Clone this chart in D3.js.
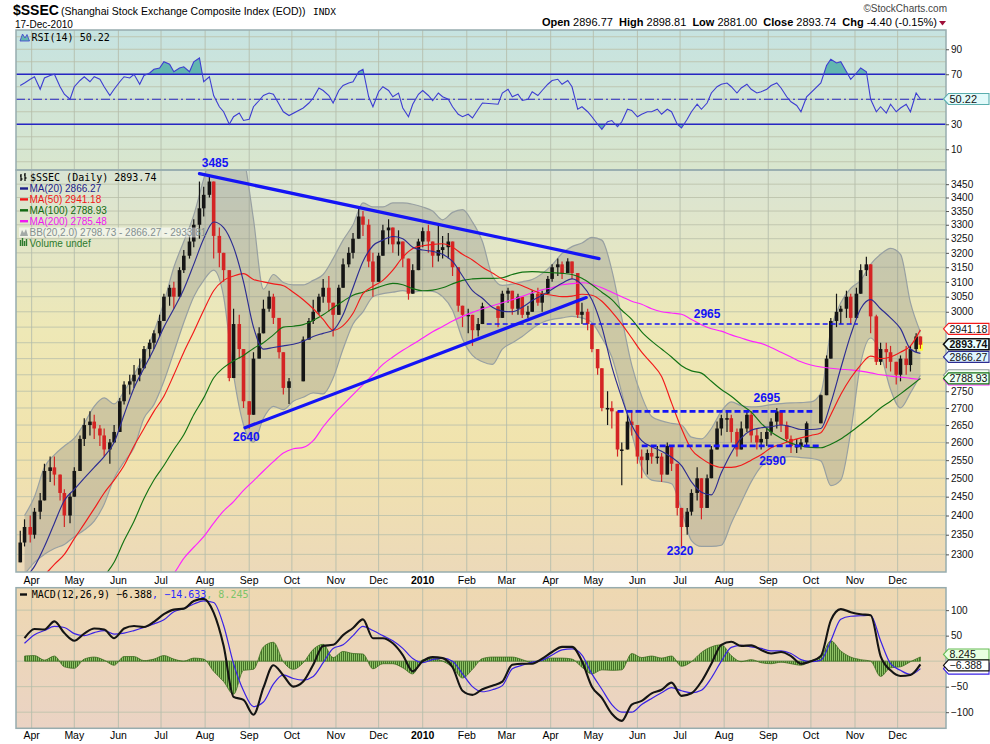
<!DOCTYPE html>
<html>
<head>
<meta charset="utf-8">
<script src="https://cdn.jsdelivr.net/npm/d3@7"></script>
<style>
  body { margin: 0; background: #fff; }
  text { font-family: Arial, "Liberation Sans", sans-serif; }
  .mono { font-family: "DejaVu Sans Mono", "Liberation Mono", monospace; }
</style>
</head>
<body>
<svg id="chart" width="990" height="744"></svg>
<script>
// ---- data ----
// weekly series, one value per Friday from 27-Mar-2009 to 17-Dec-2010
const ma20 = [
  2240, 2270, 2320, 2380, 2440, 2470, 2500, 2530, 2560, 2600,
  2680, 2760, 2820, 2880, 2950, 3010, 3075, 3160, 3250, 3310,
  3290, 3220, 3100, 2950, 2880, 2885, 2890, 2895, 2905, 2920,
  2930, 2940, 2990, 3080, 3170, 3225, 3245, 3258, 3250, 3220,
  3210, 3205, 3195, 3170, 3120, 3070, 3045, 3015, 3002, 3000,
  3015, 3037, 3055, 3075, 3095, 3110, 3090, 3040, 2950, 2825,
  2730, 2650, 2605, 2588, 2575, 2558, 2535, 2490, 2462, 2455,
  2515, 2570, 2612, 2635, 2642, 2645, 2650, 2645, 2637, 2637,
  2640, 2715, 2820, 2925, 3010, 3040, 3010, 2980, 2945, 2880, 2866.27
];
const ma50 = [
  2200, 2222, 2248, 2275, 2300, 2340, 2378, 2418, 2460, 2495,
  2535, 2590, 2640, 2690, 2735, 2800, 2870, 2935, 3005, 3070,
  3105, 3120, 3128, 3108, 3100, 3093, 3087, 3065, 3040, 3010,
  2975, 2940, 2955, 2995, 3060, 3085, 3105, 3140, 3185, 3215,
  3225, 3230, 3232, 3220, 3195, 3175, 3150, 3130, 3110, 3098,
  3087, 3072, 3060, 3055, 3050, 3052, 3058, 3055, 3035, 3000,
  2960, 2915, 2870, 2835, 2795, 2715, 2640, 2580, 2555, 2538,
  2530, 2530, 2536, 2550, 2565, 2585, 2595, 2605, 2613, 2620,
  2628, 2680, 2740, 2790, 2830, 2858, 2850, 2855, 2870, 2890, 2941.18
];
const ma100 = [
  2080, 2095, 2110, 2125, 2140, 2160, 2180, 2210, 2245, 2280,
  2335, 2385, 2445, 2495, 2535, 2580, 2622, 2680, 2730, 2790,
  2822, 2843, 2860, 2882, 2900, 2925, 2950, 2953, 2958, 2972,
  2990, 3013, 3035, 3055, 3065, 3075, 3087, 3095, 3090, 3077,
  3070, 3072, 3080, 3093, 3105, 3110, 3112, 3112, 3114, 3125,
  3133, 3135, 3133, 3131, 3129, 3125, 3112, 3090, 3065, 3040,
  3005, 2975, 2935, 2905, 2880, 2855, 2828, 2812, 2805, 2780,
  2755, 2735, 2710, 2688, 2655, 2630, 2612, 2598, 2590, 2586,
  2585, 2595, 2610, 2630, 2652, 2675, 2700, 2720, 2742, 2765, 2788.93
];
const ma200 = [
  2000, 2010, 2020, 2030, 2040, 2050, 2065, 2080, 2095, 2110,
  2130, 2150, 2175, 2200, 2225, 2252, 2290, 2318, 2345, 2380,
  2412, 2437, 2467, 2493, 2520, 2546, 2570, 2582, 2586, 2605,
  2645, 2680, 2710, 2740, 2770, 2800, 2832, 2855, 2876, 2895,
  2915, 2935, 2952, 2970, 2985, 2998, 3010, 3020, 3030, 3040,
  3051, 3063, 3073, 3080, 3090, 3094, 3097, 3092, 3080, 3065,
  3050, 3035, 3025, 3010, 3000, 2996, 2992, 2975, 2958, 2945,
  2937, 2925, 2915, 2905, 2898, 2885, 2870, 2855, 2840, 2830,
  2824, 2820, 2817, 2815, 2811, 2806, 2800, 2796, 2793, 2789, 2785.48
];
const bbUpper = [
  2400, 2450, 2530, 2565, 2590, 2612, 2655, 2705, 2730, 2712,
  2750, 2800, 2860, 2935, 3030, 3150, 3240, 3335, 3470, 3600,
  3650, 3650, 3560, 3320, 3075, 3125, 3098, 3090, 3090, 3105,
  3125, 3180, 3245, 3300, 3380, 3365, 3365, 3380, 3380, 3375,
  3365, 3350, 3318, 3345, 3355, 3310, 3240, 3120, 3088, 3092,
  3100, 3108, 3128, 3158, 3198, 3222, 3235, 3255, 3245, 3140,
  2980, 2830, 2735, 2675, 2662, 2655, 2650, 2615, 2610, 2640,
  2690, 2718, 2707, 2703, 2705, 2710, 2713, 2715, 2716, 2718,
  2745, 2940, 3030, 3078, 3105, 3160, 3195, 3216, 3195, 3030, 2933.81
];
const bbLower = [
  2250, 2280, 2300, 2315, 2325, 2345, 2362, 2385, 2430, 2500,
  2545, 2585, 2670, 2710, 2780, 2870, 2965, 3050, 3105, 3140,
  3050, 2800, 2650, 2600, 2670, 2705, 2695, 2720, 2732, 2745,
  2742, 2790, 2880, 2960, 3000, 3050, 3060, 3065, 3070, 3065,
  3070, 3068, 3050, 3005, 2912, 2860, 2840, 2832, 2880, 2900,
  2920, 2945, 2965, 2975, 2980, 2985, 2980, 2965, 2915, 2855,
  2745, 2625, 2530, 2495, 2491, 2485, 2415, 2335, 2320, 2320,
  2323, 2380, 2435, 2490, 2532, 2550, 2558, 2560, 2557, 2555,
  2548, 2480, 2495, 2630, 2835, 2915, 2865, 2755, 2700, 2745, 2798.73
];
const macdLine = [
  45, 63, 62, 78, 55, 40, 54, 64, 62, 45,
  64, 69, 67, 77, 92, 101, 103, 118, 122, 95,
  30, -70, -76, -105, -52, -8, -28, -50, -40, -7,
  30, 32, 51, 65, 82, 45, 45, 35, 12, -20,
  0, 8, 6, -12, -58, -66, -55, -48, -40, -7,
  -5, -5, 5, 18, 28, 28, 0, -50, -72, -103,
  -117, -85, -78, -63, -56, -42, -68, -63, -40, -5,
  32, 38, 30, 31, 22, 15, 18, 10, -5, 0,
  10, 80, 102, 96, 92, 90, 10, -18, -29, -27, -6.388
];
const signalLine = [
  35, 52, 60, 68, 66, 54, 50, 56, 60, 53,
  55, 60, 66, 73, 81, 97, 103, 112, 118, 115,
  70, -5, -58, -89, -80, -45, -27, -34, -37, -30,
  -3, 25, 32, 50, 68, 60, 50, 40, 25, 5,
  -3, 3, 6, 0, -25, -50, -60, -56, -48, -15,
  -8, -2, 2, 12, 22, 24, 12, -25, -55, -85,
  -100, -100, -85, -73, -62, -52, -58, -62, -57, -33,
  0, 27, 31, 28, 25, 20, 20, 15, 3, -1,
  2, 40, 82, 88, 89, 90, 40, -5, -18, -26, -14.633
];
const macdHist = [
  10, 11, 2, 10, -11, -14, 4, 8, 2, -8,
  9, 9, 1, 4, 11, 4, 0, 6, 4, -20,
  -40, -65, -18, -16, 28, 37, -1, -16, -3, 23,
  33, 7, 19, 15, 14, -15, -5, -5, -13, -25,
  3, 5, 0, -12, -33, -16, 5, 8, 8, 8,
  3, -3, 3, 6, 6, 4, -12, -25, -17, -18,
  -17, 15, 7, 10, 6, 10, -10, -1, 17, 28,
  32, 11, -1, 3, -3, -5, -2, -5, -8, 1,
  8, 40, 20, 8, 3, 0, -30, -13, -11, -1, 8.245
];

// half-week price bars (Tuesday, Friday of each week); null = market closed
const barHigh = [
  2360,2390, 2400,2420, 2460,2540, 2560,2560, 2510,2470, 2460,2530, 2620,2670, 2690,2680, 2650,2640, 2610,2650,
  2730,2780, 2800,2830, 2850,2890, 2910,2940, 2990,3060, 3090,3100, 3150,3210, 3260,3320, 3460,3440, 3478,3420,
  3290,3200, 3090,3010, 2990,2870, 2720,2870, 2950,3040, 3070,3060, 2960,2870, 2790,null, null,2920, 2980,3040,
  3060,3110, 3120,3000, 3090,3180, 3220,3270, 3360,3350, 3320,3200, 3200,3300, 3320,3290, 3280,3240, 3160,3160,
  3250,3290, 3300,3230, 3306,3260, 3270,3230, 3100,3000, 3010,2990, 2980,3030, null,null, 3020,3070, 3080,3060,
  3060,3030, 3020,3070, 3080,3070, 3120,3160, 3180,3170, 3181,3170, 3120,3030, 3010,2960, 2880,2800, 2750,2720,
  2680,2600, 2680,2690, 2650,2580, 2580,2590, 2590,2570, 2600,2580, 2520,2380, 2420,2470, 2530,2480, 2510,2590,
  2660,2680, 2690,2680, 2640,2660, 2690,2690, 2640,2630, 2640,2670, 2700,2690, 2660,2620, 2610,2610, 2660,null,
  null,2740, 2860,2980, 3060,3020, 3070,3060, 3080,3160, 3186,3130, 2990,2900, 2900,2890, 2830,2860, 2890,2890, 2930,2898.81
];
const barLow = [
  2280,2320, 2330,2340, 2390,2440, 2490,2480, 2440,2370, 2380,2450, 2540,2590, 2620,2610, 2590,2560, 2540,2600,
  2650,2710, 2740,2760, 2780,2820, 2850,2880, 2920,2980, 3020,3010, 3060,3130, 3180,3220, 3250,3330, 3400,3180,
  3150,3100, 2780,2800, 2850,2700, 2639,2700, 2860,2950, 3000,2960, 2850,2740, 2712,null, null,2830, 2910,2960,
  2990,3030, 3000,2920, 2990,3080, 3150,3180, 3270,3260, 3150,3050, 3100,3200, 3230,3200, 3190,3150, 3040,3060,
  3150,3220, 3200,3150, 3170,3180, 3180,3120, 3000,2950, 2930,2890, 2920,2960, null,null, 2950,2980, 3030,2990,
  2990,2980, 2980,3000, 3020,3000, 3060,3100, 3120,3110, 3140,3110, 2980,2960, 2940,2870, 2800,2690, 2650,2640,
  2560,2481, 2580,2620, 2540,2500, 2510,2540, 2540,2490, 2530,2520, 2400,2319, 2350,2400, 2440,2390, 2430,2520,
  2590,2620, 2630,2600, 2560,2580, 2630,2600, 2580,2580, 2590,2620, 2640,2630, 2600,2570, 2570,2580, 2590,null,
  null,2660, 2740,2860, 2950,2960, 2980,2960, 3000,3060, 3120,2930, 2830,2830, 2820,2810, 2770,2780, 2800,2810, 2870,2881
];
const barClose = [
  2330,2370, 2350,2410, 2440,2520, 2530,2510, 2460,2400, 2450,2520, 2610,2650, 2660,2640, 2620,2580, 2600,2630,
  2720,2770, 2780,2800, 2820,2880, 2900,2930, 2970,3050, 3080,3050, 3140,3190, 3240,3300, 3360,3410, 3460,3260,
  3200,3140, 2790,2960, 2880,2720, 2680,2850, 2930,3010, 3050,2980, 2870,2760, 2780,null, null,2910, 2970,3000,
  3050,3080, 3030,2990, 3080,3160, 3200,3250, 3330,3300, 3170,3100, 3190,3280, 3290,3230, 3240,3180, 3060,3140,
  3240,3277, 3240,3190, 3210,3220, 3240,3150, 3020,2990, 2990,2940, 2960,3018, null,null, 2980,3060, 3070,3010,
  3050,2990, 3000,3060, 3030,3060, 3110,3150, 3160,3130, 3170,3130, 2990,3000, 2960,2880, 2820,2700, 2700,2690,
  2580,2580, 2660,2650, 2560,2550, 2570,2560, 2560,2510, 2590,2540, 2420,2370, 2410,2460, 2500,2420, 2500,2580,
  2640,2670, 2670,2630, 2580,2640, 2680,2620, 2600,2610, 2630,2660, 2690,2650, 2610,2590, 2590,2600, 2655,null,
  null,2738, 2850,2970, 3000,3010, 3050,2980, 3060,3140, 3160,2985, 2840,2880, 2870,2840, 2800,2850, 2830,2880, 2920,2893.74
];
const rsiValues = [
  61,63, 66,68, 58,67, 69,70, 60,54, 50,60, 65,68, 64,68, 66,60, 53,58,
  64,68, 67,70, 62,69, 71,74, 75,80, 78,72, 75,76, 72,80, 83,64, 68,53,
  44,40, 30,36, 39,33, 34,44, 49,53, 55,54, 46,40, 37,null, null,43, 47,51,
  59,57, 53,47, 57,61, 63,64, 72,74, 52,44, 56,60, 57,52, 55,43, 36,46,
  54,57, 53,49, 55,52, 50,44, 38,36, 38,35, 42,47, null,null, 46,55, 58,52,
  54,49, 50,56, 53,57, 62,65, 66,62, 65,60, 42,44, 40,36, 30,26, 32,33,
  28,32, 42,41, 36,38, 40,40, 42,38, 42,40, 30,27, 34,40, 46,42, 47,55,
  60,62, 63,60, 55,59, 62,58, 55,56, 58,61, 63,59, 52,48, 45,40, 52,null,
  null,63, 77,82, 79,80, 72,66, 71,75, 72,50, 40,44, 39,46, 40,43, 46,40, 55,50.22
];

// axis ticks
const priceTicks = [2300, 2350, 2400, 2450, 2500, 2550, 2600, 2650, 2700, 2750, 2800, 2850,
  2900, 2950, 3000, 3050, 3100, 3150, 3200, 3250, 3300, 3350, 3400, 3450];
const rsiTicks = [10, 30, 70, 90];
const rsiGrid = [0, 10, 20, 30, 40, 50, 60, 70, 80, 90, 100];
const macdTicks = [-100, -50, 50, 100];
const macdGrid = [-100, -50, 0, 50, 100];
const monthLabels = ["Apr", "May", "Jun", "Jul", "Aug", "Sep", "Oct", "Nov", "Dec", "2010",
  "Feb", "Mar", "Apr", "May", "Jun", "Jul", "Aug", "Sep", "Oct", "Nov", "Dec"];

// annotations: [date, price]
const trendLines = [
  [[new Date(2009, 6, 28), 3490], [new Date(2010, 4, 5), 3180]],
  [[new Date(2009, 7, 29), 2642], [new Date(2010, 3, 26), 3047]]
];
const levelLines = [
  { price: 2960, from: new Date(2010, 1, 15), to: new Date(2010, 10, 3), thin: true },
  { price: 2690, from: new Date(2010, 4, 18), to: new Date(2010, 9, 2), thin: false },
  { price: 2590, from: new Date(2010, 5, 4), to: new Date(2010, 9, 7), thin: false }
];
const noteLabels = [
  { text: "3485", date: new Date(2009, 7, 8), price: 3516 },
  { text: "2640", date: new Date(2009, 7, 30), price: 2604 },
  { text: "2965", date: new Date(2010, 6, 20), price: 2980 },
  { text: "2695", date: new Date(2010, 7, 31), price: 2717 },
  { text: "2590", date: new Date(2010, 8, 4), price: 2536 },
  { text: "2320", date: new Date(2010, 6, 1), price: 2298 }
];

// ---- layout ----
const LEFT = 16, RIGHT = 946;
const RSI_TOP = 30, RSI_BOTTOM = 170;
const MAIN_TOP = 170, MAIN_BOTTOM = 572;
const MACD_TOP = 587.7, MACD_BOTTOM = 728.3;

const weeks = d3.timeFriday.range(new Date(2009, 2, 27), new Date(2010, 11, 18));
const barDates = weeks.flatMap(f => [d3.timeDay.offset(f, -3), f]);
const monthStarts = d3.timeMonth.range(new Date(2009, 3, 1), new Date(2011, 0, 1));

const x = d3.scaleTime().domain([new Date(2009, 2, 21), new Date(2011, 0, 4)]).range([LEFT, RIGHT]);
const y = d3.scaleLog().domain([2256, 3504]).range([MAIN_BOTTOM, MAIN_TOP]);
const rsiY = d3.scaleLinear().domain([-6.6, 105.4]).range([RSI_BOTTOM, RSI_TOP]);
const macdY = d3.scaleLinear().domain([-131.6, 144]).range([MACD_BOTTOM, MACD_TOP]);

const svg = d3.select("#chart");
const defs = svg.append("defs");

function gradient(id, stops) {
  const g = defs.append("linearGradient").attr("id", id)
    .attr("x1", 0).attr("y1", 0).attr("x2", 0).attr("y2", 1);
  stops.forEach(s => g.append("stop").attr("offset", s[0]).attr("stop-color", s[1]));
}
gradient("rsiBg", [[0, "#c6e3e1"], [1, "#d9e6cd"]]);
gradient("mainBg", [[0, "#d9e4d4"], [0.4, "#eee8b6"], [0.7, "#f1e3ad"], [1, "#ecd9b9"]]);
gradient("macdBg", [[0, "#eed8b1"], [1, "#ead3c4"]]);

function clip(id, top, bottom) {
  defs.append("clipPath").attr("id", id).append("rect")
    .attr("x", LEFT).attr("y", top).attr("width", RIGHT - LEFT).attr("height", bottom - top);
}
clip("rsiClip", RSI_TOP, RSI_BOTTOM);
clip("mainClip", MAIN_TOP, MAIN_BOTTOM);
clip("macdClip", MACD_TOP, MACD_BOTTOM);
clip("rsiHi", RSI_TOP, rsiY(70));
clip("rsiLo", rsiY(30), RSI_BOTTOM);

const stripe = defs.append("pattern").attr("id", "histStripe")
  .attr("patternUnits", "userSpaceOnUse").attr("width", 2).attr("height", 8);
stripe.append("rect").attr("width", 2).attr("height", 8).attr("fill", "#8fc266");
stripe.append("rect").attr("x", 1.1).attr("width", 0.9).attr("height", 8).attr("fill", "#3a6a1f");

// panel backgrounds and grids
function panel(top, bottom, fill, yScale, gridValues) {
  svg.append("rect").attr("x", LEFT).attr("y", top).attr("width", RIGHT - LEFT)
    .attr("height", bottom - top).attr("fill", `url(#${fill})`);
  const g = svg.append("g");
  g.selectAll("line.h").data(gridValues).join("line")
    .attr("x1", LEFT).attr("x2", RIGHT)
    .attr("y1", d => yScale(d)).attr("y2", d => yScale(d))
    .attr("stroke", "#bcc2ab").attr("stroke-width", 1).attr("opacity", 0.85);
  g.selectAll("line.v").data(monthStarts).join("line")
    .attr("x1", d => x(d)).attr("x2", d => x(d))
    .attr("y1", top).attr("y2", bottom)
    .attr("stroke", "#b5bdac").attr("stroke-width", 1).attr("opacity", 0.85);
}
panel(RSI_TOP, RSI_BOTTOM, "rsiBg", rsiY, rsiGrid);
panel(MAIN_TOP, MAIN_BOTTOM, "mainBg", y, priceTicks);
panel(MACD_TOP, MACD_BOTTOM, "macdBg", macdY, macdGrid);

// ---- RSI panel ----
const rsiG = svg.append("g").attr("clip-path", "url(#rsiClip)");
const rsiPts = barDates.map((d, i) => ({ date: d, v: rsiValues[i] })).filter(p => p.v != null);
const rsiArea = base => d3.area().x(p => x(p.date)).y0(rsiY(base)).y1(p => rsiY(p.v));
rsiG.append("path").datum(rsiPts).attr("d", rsiArea(70)).attr("fill", "#62b6b0")
  .attr("clip-path", "url(#rsiHi)");
rsiG.append("path").datum(rsiPts).attr("d", rsiArea(30)).attr("fill", "#62b6b0")
  .attr("clip-path", "url(#rsiLo)");
[70, 30].forEach(v => rsiG.append("line").attr("x1", LEFT).attr("x2", RIGHT)
  .attr("y1", rsiY(v)).attr("y2", rsiY(v)).attr("stroke", "#2626c4").attr("stroke-width", 1.3));
rsiG.append("line").attr("x1", LEFT).attr("x2", RIGHT).attr("y1", rsiY(50)).attr("y2", rsiY(50))
  .attr("stroke", "#2626c4").attr("stroke-width", 1).attr("stroke-dasharray", "9,3,2,3");
rsiG.append("path").datum(rsiPts)
  .attr("d", d3.line().x(p => x(p.date)).y(p => rsiY(p.v)))
  .attr("fill", "none").attr("stroke", "#3d3dd2").attr("stroke-width", 1.1);

// ---- price panel ----
const mainG = svg.append("g").attr("clip-path", "url(#mainClip)");
const weekLine = (arr, sc) => d3.line().x((d, i) => x(weeks[i])).y(d => sc(d)).curve(d3.curveMonotoneX)(arr);

const band = d3.area().x((d, i) => x(weeks[i])).y0((d, i) => y(bbLower[i])).y1(d => y(d))
  .curve(d3.curveMonotoneX);
mainG.append("path").attr("d", band(bbUpper)).attr("fill", "#8a8a84").attr("fill-opacity", 0.33);
mainG.append("path").attr("d", weekLine(bbUpper, y)).attr("fill", "none").attr("stroke", "#98a0a2").attr("stroke-width", 1.2);
mainG.append("path").attr("d", weekLine(bbLower, y)).attr("fill", "none").attr("stroke", "#98a0a2").attr("stroke-width", 1.2);

const bars = [];
barDates.forEach((date, i) => {
  if (barClose[i] == null) return;
  const open = bars.length ? bars[bars.length - 1].close : barLow[i];
  bars.push({ date, open, high: barHigh[i], low: barLow[i], close: barClose[i] });
});
const last = bars[bars.length - 1];
mainG.append("rect").attr("x", x(last.date) - 2).attr("width", 4.5)
  .attr("y", y(last.high) - 1.5).attr("height", y(last.low) - y(last.high) + 3.5).attr("fill", "#ffff3a");

const barG = mainG.append("g");
barG.selectAll("line").data(bars).join("line")
  .attr("x1", d => x(d.date)).attr("x2", d => x(d.date))
  .attr("y1", d => y(Math.max(d.high, d.open))).attr("y2", d => y(Math.min(d.low, d.open)))
  .attr("stroke", d => d.close >= d.open ? "#151515" : "#d42424").attr("stroke-width", 1.2);
barG.selectAll("rect").data(bars).join("rect")
  .attr("x", d => x(d.date) - 1.8).attr("width", 3.6)
  .attr("y", d => y(Math.max(d.open, d.close)))
  .attr("height", d => Math.max(1.5, Math.abs(y(d.open) - y(d.close))))
  .attr("fill", d => d.close >= d.open ? "#151515" : "#d42424");

[[ma200, "#ff22ff"], [ma100, "#137313"], [ma50, "#f21a1a"], [ma20, "#2c2c92"]].forEach(([arr, c]) => {
  mainG.append("path").attr("d", weekLine(arr, y)).attr("fill", "none")
    .attr("stroke", c).attr("stroke-width", 1.15);
});

const noteG = svg.append("g");
trendLines.forEach(([a, b]) => noteG.append("line")
  .attr("x1", x(a[0])).attr("y1", y(a[1])).attr("x2", x(b[0])).attr("y2", y(b[1]))
  .attr("stroke", "#1414f5").attr("stroke-width", 3.2).attr("stroke-linecap", "round"));
levelLines.forEach(l => noteG.append("line")
  .attr("x1", x(l.from)).attr("x2", x(l.to)).attr("y1", y(l.price)).attr("y2", y(l.price))
  .attr("stroke", "#1414f5").attr("stroke-width", l.thin ? 1.4 : 2.8)
  .attr("stroke-dasharray", l.thin ? "5,3" : "6,3"));
noteG.selectAll("text").data(noteLabels).join("text")
  .attr("x", d => x(d.date)).attr("y", d => y(d.price))
  .attr("text-anchor", "middle").attr("fill", "#1414f5")
  .style("font-size", "12px").style("font-weight", "bold").text(d => d.text);

// ---- MACD panel ----
const macdG = svg.append("g").attr("clip-path", "url(#macdClip)");
macdG.append("path")
  .attr("d", d3.area().x((d, i) => x(weeks[i])).y0(macdY(0)).y1(d => macdY(d)).curve(d3.curveMonotoneX)(macdHist))
  .attr("fill", "url(#histStripe)").attr("stroke", "#3f6e22").attr("stroke-width", 0.8);
macdG.append("path").attr("d", weekLine(signalLine, macdY)).attr("fill", "none")
  .attr("stroke", "#3a22e6").attr("stroke-width", 1.2);
macdG.append("path").attr("d", weekLine(macdLine, macdY)).attr("fill", "none")
  .attr("stroke", "#141414").attr("stroke-width", 2.1);

// panel borders
[[RSI_TOP, RSI_BOTTOM], [MAIN_TOP, MAIN_BOTTOM], [MACD_TOP, MACD_BOTTOM]].forEach(([t, b]) =>
  svg.append("rect").attr("x", LEFT).attr("y", t).attr("width", RIGHT - LEFT).attr("height", b - t)
    .attr("fill", "none").attr("stroke", "#97acae").attr("stroke-width", 1.5));

// value tags on the right edge (drawn bottom to top as on the original)
const f2 = d3.format(".2f"), f3 = d3.format(".3f");
const lastRsi = rsiValues[rsiValues.length - 1];
const mainTags = [
  { v: ma200[90], stroke: "#ff22ff", fill: "#f4fff4", text: false, dy: 0 },
  { v: bbLower[90], stroke: "#8d9898", fill: "#f4fff4", text: false, dy: 0 },
  { v: ma100[90], stroke: "#137313", fill: "#eafff2", text: true, dy: 0 },
  { v: ma20[90], stroke: "#2c2c92", fill: "#dff5ff", text: true, dy: 3.5 },
  { v: ma50[90], stroke: "#f21a1a", fill: "#ffffff", text: true, dy: -1 },
  { v: last.close, stroke: "#111", fill: "#eaffff", text: true, bold: true, dy: -0.5 }
];

// ---- axes ----
function rightAxis(scale, values, tagYs) {
  const shown = values.filter(v => tagYs.every(t => Math.abs(scale(v) - t) > 6));
  const g = svg.append("g").attr("transform", `translate(${RIGHT},0)`)
    .attr("font-family", "Arial, 'Liberation Sans', sans-serif").attr("font-size", 10.5)
    .call(d3.axisRight(scale).tickValues(shown).tickSize(3).tickPadding(2).tickFormat(d3.format("d")));
  g.select(".domain").remove();
  g.selectAll("line").attr("stroke", "#555");
  g.selectAll("text").attr("fill", "#111");
}
rightAxis(y, priceTicks, mainTags.map(t => y(t.v)));
rightAxis(rsiY, rsiTicks, [rsiY(lastRsi)]);
rightAxis(macdY, macdTicks, [macdY(macdLine[90])]);

[584, 739].forEach(base => {
  svg.append("g").selectAll("text").data(monthStarts).join("text")
    .attr("x", d => x(d)).attr("y", base).attr("text-anchor", "middle")
    .style("font-size", "10.5px").style("font-weight", (d, i) => monthLabels[i] === "2010" ? "bold" : "normal")
    .text((d, i) => monthLabels[i]);
});

function tag(yPos, label, stroke, fill, bold, size) {
  const g = svg.append("g").attr("transform", `translate(0,${yPos})`);
  g.append("path").attr("d", "M943.5,0 L948.5,-5.5 L989,-5.5 L989,5.5 L948.5,5.5 Z")
    .attr("fill", fill).attr("stroke", stroke).attr("stroke-width", bold ? 1.6 : 1.1);
  if (label) g.append("text").attr("x", 949.5).attr("y", 3.8).style("font-size", (size || 11) + "px")
    .style("font-weight", bold ? "bold" : "normal").attr("fill", "#111").text(label);
}
mainTags.forEach(t => tag(y(t.v) + t.dy, t.text ? f2(t.v) : null, t.stroke, t.fill, t.bold, 10.5));
tag(rsiY(lastRsi), f2(lastRsi), "#5aaeae", "#e2fafa", false);
tag(macdY(signalLine[90]), null, "#3a22e6", "#ffffff", false);
tag(macdY(macdHist[90]) - 2.5, f3(macdHist[90]), "#66bb55", "#e8ffe0", false, 10.5);
tag(macdY(macdLine[90]) + 1, f3(macdLine[90]), "#111", "#ffffff", false, 10.5);

// ---- legends ----
const legend = svg.append("g");
legend.append("rect").attr("x", 19).attr("y", 227.5).attr("width", 179).attr("height", 10)
  .attr("fill", "#ffffff").attr("opacity", 0.55);
legend.append("path").attr("d", "M21,181 V174 M20,176 H21 M21,179 H22.5 M25,181 V173 M24,175 H25 M25,178 H26.5")
  .attr("stroke", "#111").attr("stroke-width", 1.3).attr("fill", "none");
legend.append("text").attr("class", "mono").attr("x", 30).attr("y", 181)
  .style("font-size", "10px").text("$SSEC (Daily) " + f2(last.close));
const legendRows = [
  ["MA(20) " + f2(ma20[90]), "#1e1e8a"],
  ["MA(50) " + f2(ma50[90]), "#f01515"],
  ["MA(100) " + f2(ma100[90]), "#126a12"],
  ["MA(200) " + f2(ma200[90]), "#f018f0"]
];
legendRows.forEach(([t, c], i) => {
  const base = 192 + i * 10.9;
  legend.append("line").attr("x1", 20).attr("x2", 28).attr("y1", base - 3.5).attr("y2", base - 3.5)
    .attr("stroke", c).attr("stroke-width", 2.4);
  legend.append("text").attr("x", 29.5).attr("y", base).attr("fill", c).style("font-size", "10px").text(t);
});
legend.append("path").attr("d", "M20,236 L22,230 L24,233 L26,229 L28,236 Z").attr("fill", "#a4aaa6");
legend.append("text").attr("x", 29.5).attr("y", 235.6).attr("fill", "#849090").style("font-size", "10px")
  .text(`BB(20,2.0) ${f2(bbLower[90])} - ${f2(ma20[90])} - ${f2(bbUpper[90])}`);
legend.append("path").attr("d", "M20.5,246 V240 M22.5,246 V238 M24.5,246 V241 M26.5,246 V239")
  .attr("stroke", "#2d7a2d").attr("stroke-width", 1.4);
legend.append("text").attr("x", 29.5).attr("y", 246.5).attr("fill", "#2d7a2d").style("font-size", "10px")
  .text("Volume undef");

legend.append("path").attr("d", "M20,41 L22.5,34 L25,38 L27,34.5 L29.5,41 Z")
  .attr("fill", "#62b6b0").attr("stroke", "#3d3dd2").attr("stroke-width", 0.8);
legend.append("text").attr("class", "mono").attr("x", 31.5).attr("y", 41).style("font-size", "10px")
  .text("RSI(14) " + f2(lastRsi));

legend.append("line").attr("x1", 20).attr("x2", 27).attr("y1", 594.5).attr("y2", 594.5)
  .attr("stroke", "#111").attr("stroke-width", 2.4);
const macdText = legend.append("text").attr("class", "mono").attr("x", 31.7).attr("y", 598).style("font-size", "10px");
macdText.append("tspan").text("MACD(12,26,9) " + f3(macdLine[90]));
macdText.append("tspan").attr("fill", "#2a2aff").text(", " + f3(signalLine[90]));
macdText.append("tspan").attr("fill", "#7cc46a").text(", " + f3(macdHist[90]));

// ---- header ----
svg.append("text").attr("x", 13).attr("y", 15).style("font-size", "14px").style("font-weight", "bold").text("$SSEC");
svg.append("text").attr("x", 61).attr("y", 15).style("font-size", "10.5px")
  .text("(Shanghai Stock Exchange Composite Index (EOD))");
svg.append("text").attr("class", "mono").attr("x", 313).attr("y", 14.5).style("font-size", "9.5px").text("INDX");
svg.append("text").attr("x", 15).attr("y", 27.5).style("font-size", "10px").text("17-Dec-2010");
svg.append("text").attr("x", 947).attr("y", 12).attr("text-anchor", "end").attr("fill", "#444")
  .style("font-size", "10px").text("\u00a9StockCharts.com");
const quote = svg.append("text").attr("x", 937).attr("y", 26).attr("text-anchor", "end").style("font-size", "11px");
[["Open", " 2896.77  "], ["High", " 2898.81  "], ["Low", " 2881.00  "], ["Close", " 2893.74  "], ["Chg", " -4.40 (-0.15%)"]]
  .forEach(([k, v]) => {
    quote.append("tspan").style("font-weight", "bold").text(k);
    quote.append("tspan").attr("xml:space", "preserve").style("white-space", "pre").text(v);
  });
svg.append("path").attr("d", "M939,21 L946,21 L942.5,25.5 Z").attr("fill", "#a0103a");
</script>
</body>
</html>
